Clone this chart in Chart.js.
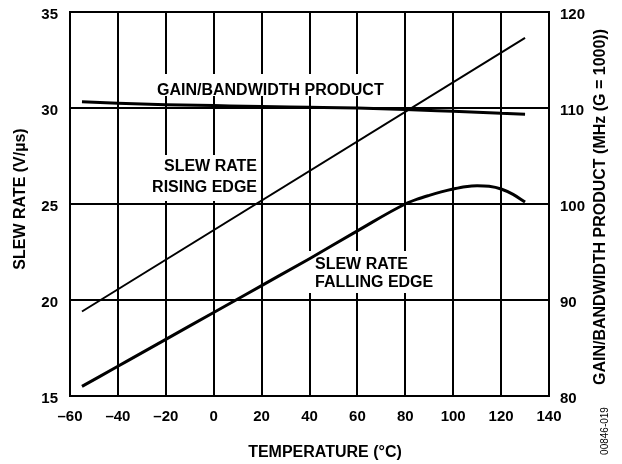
<!DOCTYPE html>
<html>
<head>
<meta charset="utf-8">
<script src="https://cdn.jsdelivr.net/npm/chart.js@4.4.1/dist/chart.umd.min.js"></script>
<style>
html,body{margin:0;padding:0;background:#fff;}
#wrap{width:622px;height:464px;position:relative;}
</style>
</head>
<body>
<div id="wrap"><canvas id="c" width="622" height="464"></canvas></div>
<script>
// Data
const xTicks = [-60, -40, -20, 0, 20, 40, 60, 80, 100, 120, 140];
const leftTicks = [15, 20, 25, 30, 35];
const rightTicks = [80, 90, 100, 110, 120];

const risingTemp = [-55, 130];
const risingSlew = [19.4, 33.65];

const fallingTemp = [-55, -40, -20, 0, 20, 40, 60, 80, 85, 90, 95, 100, 105, 110, 115, 120, 125, 130];
const fallingSlew = [15.5, 16.55, 17.95, 19.35, 20.75, 22.15, 23.6, 25.0, 25.25, 25.45, 25.63, 25.78, 25.9, 25.95, 25.92, 25.78, 25.5, 25.1];

const gbwTemp = [-55, -40, -20, 0, 20, 40, 60, 80, 100, 120, 130];
const gbwMHz = [110.65, 110.5, 110.35, 110.25, 110.15, 110.08, 110.0, 109.85, 109.65, 109.45, 109.35];

const FONT = '"Liberation Sans", Arial, Helvetica, sans-serif';

function pts(xs, ys){ return xs.map((x,i)=>({x:x, y:ys[i]})); }

const annotations = {
  id: 'annotations',
  beforeDatasetsDraw(chart){
    const ctx = chart.ctx;
    ctx.save();
    ctx.fillStyle = '#fff';
    ctx.fillRect(152, 74, 233, 22);
    ctx.fillRect(151, 155, 107, 46);
    ctx.fillRect(305, 251, 140, 42);
    ctx.fillStyle = '#000';
    ctx.font = 'bold 16px ' + FONT;
    ctx.textBaseline = 'middle';
    ctx.textAlign = 'left';
    ctx.fillText('GAIN/BANDWIDTH PRODUCT', 157, 91);
    ctx.textAlign = 'right';
    ctx.fillText('SLEW RATE', 257, 167);
    ctx.fillText('RISING EDGE', 257, 188);
    ctx.textAlign = 'left';
    ctx.fillText('SLEW RATE', 315, 265);
    ctx.fillText('FALLING EDGE', 315, 283);
    ctx.restore();
  },
  afterDraw(chart){
    const ctx = chart.ctx;
    ctx.save();
    ctx.fillStyle = '#000';
    ctx.font = 'bold 16px ' + FONT;
    ctx.textAlign = 'center';
    ctx.textBaseline = 'middle';
    ctx.fillText('TEMPERATURE (°C)', 325, 453);
    ctx.translate(21, 199);
    ctx.rotate(-Math.PI/2);
    ctx.fillText('SLEW RATE (V/µs)', 0, 0);
    ctx.restore();
    ctx.save();
    ctx.fillStyle = '#000';
    ctx.font = 'bold 16px ' + FONT;
    ctx.textAlign = 'center';
    ctx.textBaseline = 'middle';
    ctx.translate(601, 207);
    ctx.rotate(-Math.PI/2);
    ctx.fillText('GAIN/BANDWIDTH PRODUCT (MHz (G = 1000))', 0, 0);
    ctx.restore();
    ctx.save();
    ctx.fillStyle = '#000';
    ctx.font = '10px ' + FONT;
    ctx.textAlign = 'center';
    ctx.textBaseline = 'middle';
    ctx.translate(605, 431);
    ctx.rotate(-Math.PI/2);
    ctx.fillText('00846-019', 0, 0);
    ctx.restore();
  }
};

function fitV(w){
  return s => { s.width = w; s.paddingTop = 0; s.paddingBottom = 0; };
}

new Chart(document.getElementById('c'), {
  type: 'line',
  data: {
    datasets: [
      { label: 'Slew Rate Rising Edge', data: pts(risingTemp, risingSlew), yAxisID: 'y',
        borderColor: '#000', borderWidth: 2, pointRadius: 0, tension: 0 },
      { label: 'Slew Rate Falling Edge', data: pts(fallingTemp, fallingSlew), yAxisID: 'y',
        borderColor: '#000', borderWidth: 3, pointRadius: 0, cubicInterpolationMode: 'monotone' },
      { label: 'Gain/Bandwidth Product', data: pts(gbwTemp, gbwMHz), yAxisID: 'y1',
        borderColor: '#000', borderWidth: 3, pointRadius: 0, cubicInterpolationMode: 'monotone' }
    ]
  },
  options: {
    responsive: false,
    animation: false,
    devicePixelRatio: 1,
    layout: { padding: { top: 12, left: 0, right: 0, bottom: 0 } },
    plugins: { legend: { display: false }, tooltip: { enabled: false } },
    scales: {
      x: {
        type: 'linear', min: -60, max: 140,
        afterBuildTicks: s => { s.ticks = xTicks.map(v => ({value: v})); },
        afterFit: s => { s.height = 68; s.paddingLeft = 0; s.paddingRight = 0; },
        ticks: { color: '#000', font: { family: FONT, size: 15, weight: 'bold' }, padding: 12,
                 callback: v => (v < 0 ? '\u2013' + Math.abs(v) : String(v)), maxRotation: 0 },
        grid: { color: '#000', lineWidth: 2, drawTicks: false },
        border: { color: '#000', width: 2 }
      },
      y: {
        type: 'linear', position: 'left', min: 15, max: 35,
        afterBuildTicks: s => { s.ticks = leftTicks.map(v => ({value: v})); },
        afterFit: fitV(70),
        ticks: { color: '#000', font: { family: FONT, size: 15, weight: 'bold' }, padding: 12, labelOffset: 3 },
        grid: { color: '#000', lineWidth: 2, drawTicks: false },
        border: { color: '#000', width: 2 }
      },
      y1: {
        type: 'linear', position: 'right', min: 80, max: 120,
        afterBuildTicks: s => { s.ticks = rightTicks.map(v => ({value: v})); },
        afterFit: fitV(73),
        ticks: { color: '#000', font: { family: FONT, size: 15, weight: 'bold' }, padding: 11, labelOffset: 3 },
        grid: { display: false, drawTicks: false },
        border: { color: '#000', width: 2 }
      }
    }
  },
  plugins: [annotations]
});
</script>
</body>
</html>
